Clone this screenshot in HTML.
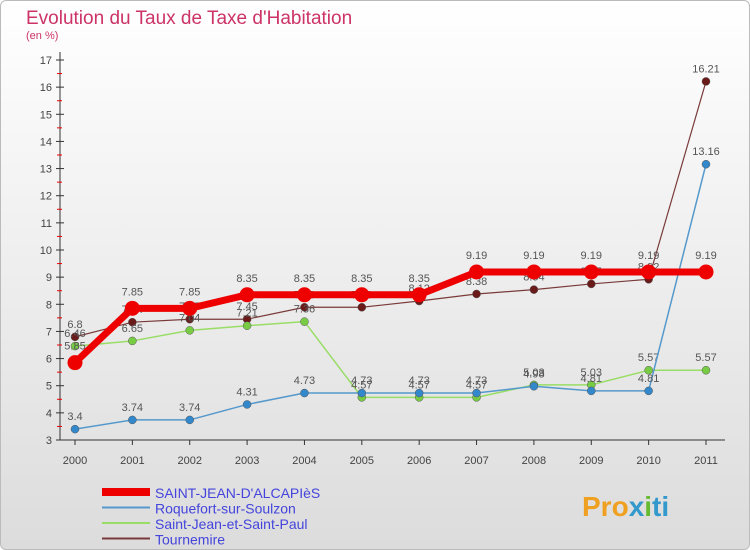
<!DOCTYPE html>
<html><head><meta charset="utf-8"><style>
body{margin:0;width:750px;height:550px;overflow:hidden;font-family:"Liberation Sans",sans-serif;}
#wrap{position:relative;width:748px;height:548px;border:1px solid #bbb;border-radius:6px;background:linear-gradient(#fff,#dcdcdc);}
</style></head><body>
<div id="wrap">
<svg id="c" width="750" height="550" style="position:absolute;left:-1px;top:-1px">
<text x="26" y="24" font-size="19" fill="#cc3366">Evolution du Taux de Taxe d'Habitation</text>
<text x="26" y="39" font-size="11" fill="#cc3366">(en %)</text>
<g id="axes"></g><g id="series"></g><g id="legend"></g>
<text x="582" y="516" font-size="28" font-weight="bold" fill="#f0a020">Pro<tspan fill="#3399cc">x</tspan><tspan fill="#66bb33">i</tspan><tspan fill="#3399cc">ti</tspan></text>
</svg></div>
<script>
const years=[2000,2001,2002,2003,2004,2005,2006,2007,2008,2009,2010,2011];
const yTicks=[3,4,5,6,7,8,9,10,11,12,13,14,15,16,17];
const sStJeanAlcapies=[5.85,7.85,7.85,8.35,8.35,8.35,8.35,9.19,9.19,9.19,9.19,9.19];
const sRoquefort=[3.4,3.74,3.74,4.31,4.73,4.73,4.73,4.73,4.98,4.81,4.81,13.16];
const sStJeanStPaul=[6.46,6.65,7.04,7.21,7.36,4.57,4.57,4.57,5.03,5.03,5.57,5.57];
const sTournemire=[6.8,7.34,7.45,7.45,7.89,7.89,8.12,8.38,8.54,8.75,8.92,16.21];
const names=["SAINT-JEAN-D'ALCAPIèS","Roquefort-sur-Soulzon","Saint-Jean-et-Saint-Paul","Tournemire"];
const NS="http://www.w3.org/2000/svg";
const X=i=>75+i*(706-75)/11, Y=v=>440-(v-3)*(380/14);
function mk(t,a,p){const e=document.createElementNS(NS,t);for(const k in a)e.setAttribute(k,a[k]);p.appendChild(e);return e;}
const ax=document.getElementById('axes');
const yl=mk('line',{x1:60,y1:52,x2:60,y2:440,stroke:'#333'},ax);


const xl=mk('line',{x1:60,y1:440,x2:725,y2:440,stroke:'#333'},ax);


yTicks.forEach(v=>{mk('line',{x1:56,y1:Y(v),x2:64,y2:Y(v),stroke:'#333'},ax);
 if(v<17)mk('line',{x1:57,y1:Y(v+0.5),x2:62,y2:Y(v+0.5),stroke:'#e00'},ax);
 const t=mk('text',{x:52,y:Y(v)+4,'font-size':11,'text-anchor':'end',fill:'#444'},ax);t.textContent=v;
 
 });
years.forEach((y,i)=>{mk('line',{x1:X(i),y1:440,x2:X(i),y2:445,stroke:'#333'},ax);
 const t=mk('text',{x:X(i),y:464,'font-size':11,'text-anchor':'middle',fill:'#444'},ax);t.textContent=y;
 
 });
const sg=document.getElementById('series');
const defs=[[sTournemire,'#7a3a3a','#6b1a1a',1.2,4],[sStJeanStPaul,'#99dd66','#77cc44',1.5,4],[sRoquefort,'#5599cc','#3388cc',1.5,4],[sStJeanAlcapies,'#ee0000','#ee0000',7,7.5]];
const keys=['tournemire','st-jean-st-paul','roquefort','st-jean-alcapies'];
defs.forEach((d,k)=>{const [vals,lc,pc,w,r]=d;
 const pl=mk('polyline',{points:vals.map((v,i)=>X(i)+','+Y(v)).join(' '),fill:'none',stroke:lc,'stroke-width':w,'stroke-linejoin':'round'},sg);
 
 
 vals.forEach((v,i)=>{const c=mk('circle',{cx:X(i),cy:Y(v),r:r,fill:pc,stroke:'#555','stroke-width':r>5?0:0.5},sg);
  
  
  const t=mk('text',{x:X(i),y:Y(v)-9-(r>5?4:0),'font-size':11,'text-anchor':'middle',fill:'#555'},sg);t.textContent=v;
  
  });});
const lg=document.getElementById('legend');
const lcol=['#ee0000','#5599cc','#99dd66','#7a3a3a'],lw=[8,2,2,2];
names.forEach((n,i)=>{const y=492+i*15.5;
 mk('line',{x1:102,y1:y,x2:150,y2:y,stroke:lcol[i],'stroke-width':lw[i]},lg);
 const t=mk('text',{x:155,y:y+6,'font-size':14,fill:'#4444dd'},lg);t.textContent=n;
 
 });
</script></body></html>
